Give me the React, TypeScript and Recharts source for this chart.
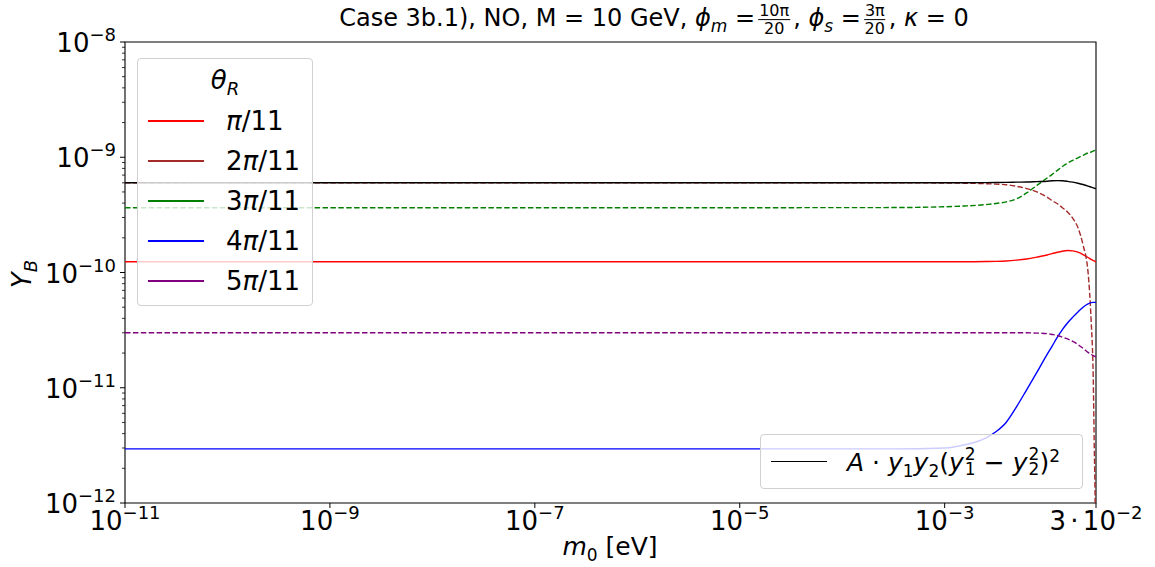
import React from 'react';
import { LineChart, Line, XAxis, YAxis, ReferenceArea } from 'recharts';

// m0 in eV (x positions)
const m0Values = [
  1e-11, 1e-5, 3.16e-4, 1e-3, 1.58e-3, 2.51e-3, 3.16e-3, 3.98e-3, 5.01e-3, 6.31e-3,
  7.94e-3, 1.0e-2, 1.12e-2, 1.26e-2, 1.41e-2, 1.58e-2, 1.78e-2, 2.0e-2, 2.24e-2, 2.51e-2,
  2.69e-2, 2.82e-2, 2.88e-2, 2.95e-2, 3.0e-2,
];

// theta_R = pi/11 (red, solid)
const seriesPi1 = [
  1.24e-10, 1.24e-10, 1.24e-10, 1.24e-10, 1.24e-10, 1.245e-10, 1.25e-10, 1.26e-10, 1.28e-10, 1.31e-10,
  1.36e-10, 1.42e-10, 1.46e-10, 1.5e-10, 1.53e-10, 1.55e-10, 1.54e-10, 1.5e-10, 1.43e-10, 1.35e-10,
  1.3e-10, 1.27e-10, 1.26e-10, 1.245e-10, 1.24e-10,
];
// theta_R = 2pi/11 (brown, dashed)
const seriesPi2 = [
  6.0e-10, 6.0e-10, 6.0e-10, 5.98e-10, 5.95e-10, 5.9e-10, 5.85e-10, 5.78e-10, 5.6e-10, 5.35e-10,
  5.0e-10, 4.5e-10, 4.2e-10, 3.95e-10, 3.65e-10, 3.35e-10, 2.95e-10, 2.45e-10, 1.74e-10, 1.0e-10,
  3.8e-11, 1.2e-11, 3.5e-12, 8e-13, 1e-13,
];
// theta_R = 3pi/11 (green, dashed)
const seriesPi3 = [
  3.65e-10, 3.65e-10, 3.66e-10, 3.72e-10, 3.78e-10, 3.88e-10, 3.97e-10, 4.1e-10, 4.35e-10, 4.9e-10,
  5.7e-10, 6.6e-10, 7.1e-10, 7.7e-10, 8.3e-10, 8.9e-10, 9.4e-10, 9.9e-10, 1.04e-9, 1.09e-9,
  1.11e-9, 1.13e-9, 1.14e-9, 1.15e-9, 1.15e-9,
];
// theta_R = 4pi/11 (blue, solid)
const seriesPi4 = [
  2.95e-12, 2.95e-12, 2.95e-12, 3.0e-12, 3.2e-12, 3.65e-12, 4.15e-12, 5.0e-12, 6.8e-12, 9.6e-12,
  1.36e-11, 1.95e-11, 2.3e-11, 2.75e-11, 3.2e-11, 3.65e-11, 4.1e-11, 4.55e-11, 5.0e-11, 5.35e-11,
  5.48e-11, 5.5e-11, 5.5e-11, 5.5e-11, 5.5e-11,
];
// theta_R = 5pi/11 (purple, dashed)
const seriesPi5 = [
  3.0e-11, 3.0e-11, 3.0e-11, 3.0e-11, 3.0e-11, 3.0e-11, 3.0e-11, 3.0e-11, 3.0e-11, 3.0e-11,
  2.98e-11, 2.95e-11, 2.9e-11, 2.84e-11, 2.75e-11, 2.65e-11, 2.52e-11, 2.37e-11, 2.2e-11, 2.03e-11,
  1.95e-11, 1.9e-11, 1.88e-11, 1.86e-11, 1.85e-11,
];
// A * y1 y2 (y1^2 - y2^2)^2 (black, solid)
const seriesFit = [
  6.0e-10, 6.0e-10, 6.0e-10, 6.0e-10, 6.0e-10, 6.02e-10, 6.03e-10, 6.05e-10, 6.08e-10, 6.1e-10,
  6.15e-10, 6.2e-10, 6.25e-10, 6.27e-10, 6.25e-10, 6.18e-10, 6.08e-10, 5.95e-10, 5.8e-10, 5.62e-10,
  5.5e-10, 5.42e-10, 5.4e-10, 5.36e-10, 5.34e-10,
];

const legendLabels = ['π/11', '2π/11', '3π/11', '4π/11', '5π/11'];
const seriesKeys = ['pi1', 'pi2', 'pi3', 'pi4', 'pi5'];
const seriesColors = ['#ff0000', '#a52a2a', '#008000', '#0000ff', '#800080'];
const seriesDashed = [false, true, true, false, true];
const seriesValues = [seriesPi1, seriesPi2, seriesPi3, seriesPi4, seriesPi5];

const xTicks = [1e-11, 1e-9, 1e-7, 1e-5, 1e-3, 3e-2];
const xTickLabels = [
  { pre: '', base: '10', exp: '−11' },
  { pre: '', base: '10', exp: '−9' },
  { pre: '', base: '10', exp: '−7' },
  { pre: '', base: '10', exp: '−5' },
  { pre: '', base: '10', exp: '−3' },
  { pre: '3 · ', base: '10', exp: '−2' },
];
const yMajorTicks = [1e-12, 1e-11, 1e-10, 1e-9, 1e-8];
const yMajorExps = ['−12', '−11', '−10', '−9', '−8'];
const yMinorMultipliers = [2, 3, 4, 5, 6, 7, 8, 9];
const yMinorTicks = [1e-12, 1e-11, 1e-10, 1e-9].flatMap((d) => yMinorMultipliers.map((m) => m * d));

const data = m0Values.map((x, i) => {
  const row: Record<string, number> = { x, fit: seriesFit[i] };
  seriesKeys.forEach((k, j) => {
    row[k] = seriesValues[j][i];
  });
  return row;
});

const FONT = '"DejaVu Sans", sans-serif';
const TICK_FS = 26;
const SUP_FS = 18;

const XTick = (props: any) => {
  const { x, y, payload } = props;
  const idx = xTicks.findIndex((t) => Math.abs(t - payload.value) / t < 1e-6);
  const lab = xTickLabels[idx];
  return (
    <g>
      <line x1={x} x2={x} y1={y} y2={y + 5} stroke="#000" strokeWidth={1} />
      {lab && (
        <text x={x} y={y + 27} textAnchor="middle" fontFamily={FONT} fontSize={TICK_FS} fill="#000">
          {lab.pre && <tspan letterSpacing={-2}>{lab.pre}</tspan>}
          <tspan>{lab.base}</tspan>
          <tspan dy={-11} fontSize={SUP_FS}>{lab.exp}</tspan>
        </text>
      )}
    </g>
  );
};

const YTick = (props: any) => {
  const { x, y, payload } = props;
  const idx = yMajorTicks.findIndex((t) => Math.abs(t - payload.value) / t < 1e-6);
  if (idx < 0) {
    return <line x1={x - 3} x2={x} y1={y} y2={y} stroke="#000" strokeWidth={0.8} />;
  }
  return (
    <g>
      <line x1={x - 5} x2={x} y1={y} y2={y} stroke="#000" strokeWidth={1} />
      <text x={x - 9} y={y + 10} textAnchor="end" fontFamily={FONT} fontSize={TICK_FS} fill="#000">
        <tspan>10</tspan>
        <tspan dy={-11} fontSize={SUP_FS}>{yMajorExps[idx]}</tspan>
      </text>
    </g>
  );
};

const Frac = ({ n, d }: { n: string; d: string }) => (
  <span
    style={{
      display: 'inline-flex',
      flexDirection: 'column',
      alignItems: 'center',
      verticalAlign: 'middle',
      fontSize: 16,
      lineHeight: '15px',
      margin: '0 3px',
    }}
  >
    <span style={{ borderBottom: '1.2px solid #000', padding: '0 1px 1px' }}>{n}</span>
    <span style={{ paddingTop: 1 }}>{d}</span>
  </span>
);

const SupSub = ({ sup, sub }: { sup: string; sub: string }) => (
  <span style={{ position: 'relative', display: 'inline-block', width: 12, height: 20, verticalAlign: 'baseline' }}>
    <span style={{ position: 'absolute', left: 1, top: -2.5, fontSize: 17, lineHeight: '13px' }}>{sup}</span>
    <span style={{ position: 'absolute', left: 1, top: 12.5, fontSize: 17, lineHeight: '13px' }}>{sub}</span>
  </span>
);

export default function App() {
  return (
    <div
      style={{
        position: 'absolute',
        left: 0,
        top: 0,
        width: 1155,
        height: 567,
        background: '#fff',
        fontFamily: FONT,
        color: '#000',
      }}
    >
      <LineChart
        width={1155}
        height={567}
        data={data}
        margin={{ top: 42, right: 59, bottom: 24, left: 40 }}
      >
        <XAxis
          dataKey="x"
          type="number"
          scale="log"
          domain={[1e-11, 3e-2]}
          ticks={xTicks}
          allowDataOverflow
          axisLine={false}
          tickLine={false}
          tickSize={0}
          tickMargin={0}
          height={40}
          interval={0}
          tick={<XTick />}
        />
        <YAxis
          type="number"
          scale="log"
          domain={[1e-12, 1e-8]}
          ticks={[...yMajorTicks, ...yMinorTicks]}
          allowDataOverflow
          axisLine={false}
          tickLine={false}
          tickSize={0}
          tickMargin={0}
          width={85}
          interval={0}
          tick={<YTick />}
        />
        {seriesKeys.map((k, j) => (
          <Line
            key={k}
            dataKey={k}
            type="monotone"
            stroke={seriesColors[j]}
            strokeWidth={1.4}
            strokeDasharray={seriesDashed[j] ? '5.5 2.4' : undefined}
            dot={false}
            activeDot={false}
            isAnimationActive={false}
          />
        ))}
        <Line
          dataKey="fit"
          type="monotone"
          stroke="#000"
          strokeWidth={1.4}
          dot={false}
          activeDot={false}
          isAnimationActive={false}
        />
        <ReferenceArea
          x1={1e-11}
          x2={3e-2}
          y1={1e-12}
          y2={1e-8}
          fill="none"
          fillOpacity={0}
          stroke="#000"
          strokeWidth={1.1}
        />
      </LineChart>

      {/* Title */}
      <div
        style={{
          position: 'absolute',
          left: 654,
          top: 22,
          transform: 'translate(-50%, -50%)',
          fontSize: 24,
          whiteSpace: 'nowrap',
          lineHeight: '36px',
        }}
      >
        Case 3b.1), NO, M = 10 GeV, <i>ϕ</i>
        <sub style={{ fontSize: 17, fontStyle: 'italic' }}>m</sub> =
        <Frac n="10π" d="20" />, <i>ϕ</i>
        <sub style={{ fontSize: 17, fontStyle: 'italic' }}>s</sub> =
        <Frac n="3π" d="20" />, <i>κ</i> = 0
      </div>

      {/* Y label */}
      <div
        style={{
          position: 'absolute',
          left: 24,
          top: 274,
          transform: 'translate(-50%, -50%) rotate(-90deg)',
          fontSize: 26,
          whiteSpace: 'nowrap',
        }}
      >
        <i>Y</i>
        <sub style={{ fontSize: 18, fontStyle: 'italic' }}>B</sub>
      </div>

      {/* X label */}
      <div
        style={{
          position: 'absolute',
          left: 610,
          top: 548,
          transform: 'translate(-50%, -50%)',
          fontSize: 25,
          whiteSpace: 'nowrap',
        }}
      >
        <i>m</i>
        <sub style={{ fontSize: 17 }}>0</sub> [eV]
      </div>

      {/* Legend: theta_R */}
      <div
        style={{
          position: 'absolute',
          left: 137,
          top: 58,
          width: 176,
          height: 248,
          boxSizing: 'border-box',
          border: '1px solid #d0d0d0',
          borderRadius: 4,
          background: 'rgba(255,255,255,0.8)',
        }}
      >
        <div
          style={{
            position: 'absolute',
            left: 0,
            width: '100%',
            top: 6,
            textAlign: 'center',
            fontSize: 26,
          }}
        >
          <i>θ</i>
          <sub style={{ fontSize: 18, fontStyle: 'italic' }}>R</sub>
        </div>
        {legendLabels.map((lab, j) => (
          <div
            key={lab}
            style={{
              position: 'absolute',
              left: 10,
              top: 46 + j * 40,
              height: 32,
              display: 'flex',
              alignItems: 'center',
            }}
          >
            <div style={{ width: 56, height: 1.4, background: seriesColors[j] }} />
            <span style={{ marginLeft: 22, fontSize: 26, lineHeight: '32px' }}>
              {lab.split('π').map((part, p, arr) => (
                <React.Fragment key={p}>
                  {part}
                  {p < arr.length - 1 && <i>π</i>}
                </React.Fragment>
              ))}
            </span>
          </div>
        ))}
      </div>

      {/* Legend: fit */}
      <div
        style={{
          position: 'absolute',
          left: 760,
          top: 434,
          width: 323,
          height: 55,
          boxSizing: 'border-box',
          border: '1px solid #d0d0d0',
          borderRadius: 4,
          background: 'rgba(255,255,255,0.8)',
          display: 'flex',
          alignItems: 'center',
        }}
      >
        <div style={{ marginLeft: 10, width: 56, height: 1.4, background: '#000' }} />
        <span style={{ marginLeft: 20, fontSize: 25, whiteSpace: 'nowrap', lineHeight: '30px', marginTop: 2 }}>
          <i>A</i> · <i>y</i>
          <sub style={{ fontSize: 17, lineHeight: 0 }}>1</sub>
          <i>y</i>
          <sub style={{ fontSize: 17, lineHeight: 0 }}>2</sub>(<i>y</i>
          <SupSub sup="2" sub="1" />
          {' '}− <i>y</i>
          <SupSub sup="2" sub="2" />
          )<sup style={{ fontSize: 17, lineHeight: 0 }}>2</sup>
        </span>
      </div>
    </div>
  );
}
